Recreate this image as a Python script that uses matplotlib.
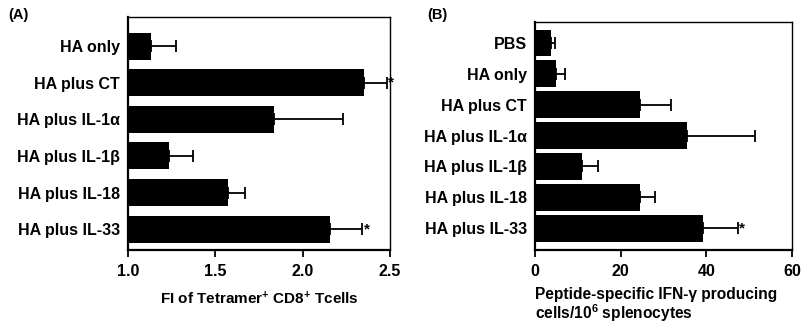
import matplotlib
matplotlib.use("Agg")
import matplotlib.pyplot as plt
import numpy as np

plt.rcParams['font.family'] = ['Liberation Sans', 'DejaVu Sans']
plt.rcParams['font.weight'] = 'bold'
plt.rcParams['mathtext.fontset'] = 'custom'
plt.rcParams['mathtext.rm'] = 'Liberation Sans:bold'
plt.rcParams['mathtext.bf'] = 'Liberation Sans:bold'
plt.rcParams['mathtext.default'] = 'bf'

# (A) Fluoreszenzindex Tetramer+ CD8+ T-Zellen
groups_a = ["HA only", "HA plus CT", "HA plus IL-1α", "HA plus IL-1β", "HA plus IL-18", "HA plus IL-33"]
fi_mean = [1.13, 2.35, 1.835, 1.235, 1.57, 2.155]
fi_sem = [0.145, 0.13, 0.395, 0.135, 0.10, 0.185]
sig_a = [False, True, False, False, False, True]

# (B) IFN-gamma produzierende Zellen / 10^6 Splenozyten
groups_b = ["PBS", "HA only", "HA plus CT", "HA plus IL-1α", "HA plus IL-1β", "HA plus IL-18", "HA plus IL-33"]
ifn_mean = [3.7, 4.8, 24.5, 35.4, 11.0, 24.5, 39.3]
ifn_sem = [1.0, 2.2, 7.2, 16.0, 3.6, 3.5, 8.1]
sig_b = [False, False, False, False, False, False, True]

fig = plt.figure(figsize=(8.03, 3.28), dpi=100)
ax1 = fig.add_axes([0.1594, 0.2378, 0.3263, 0.710])
ax2 = fig.add_axes([0.6663, 0.2378, 0.3200, 0.695])


def balken(ax, labels, vals, errs, sig, height, base, xmax, ylim):
    y = np.arange(len(labels))
    ax.barh(y, np.array(vals) - base, left=base, height=height, color='black')
    ax.errorbar(vals, y, xerr=[np.zeros(len(vals)), errs], fmt='none',
                ecolor='black', elinewidth=1.3, capsize=4, capthick=1.3)
    for i, s in enumerate(sig):
        if s:
            ax.text(vals[i] + errs[i] + xmax * 0.004, y[i], "*", fontsize=11,
                    fontweight='bold', va='center', ha='left')
    ax.set_yticks(y)
    ax.set_yticklabels(labels, fontsize=11.5, fontweight='bold')
    ax.set_ylim(*ylim)
    ax.tick_params(axis='y', length=0, pad=6)
    ax.tick_params(axis='x', direction='out', length=5, width=1.3, labelsize=11.5, pad=5)
    for sp in ax.spines.values():
        sp.set_linewidth(1.0)
    ax.spines['left'].set_linewidth(1.6)
    ax.spines['bottom'].set_linewidth(1.6)
    for lab in ax.get_xticklabels():
        lab.set_fontweight('bold')


balken(ax1, groups_a, fi_mean, fi_sem, sig_a, 0.74, 1.0, 2.5, (5.57, -0.79))
ax1.set_xlim(1.0, 2.5)
ax1.set_xticks([1.0, 1.5, 2.0, 2.5])
ax1.set_xticklabels(["1.0", "1.5", "2.0", "2.5"])
ax1.set_xlabel(r"FI of Tetramer$^{+}$ CD8$^{+}$ Tcells", fontsize=11, fontweight='bold', labelpad=8)

balken(ax2, groups_b, ifn_mean, ifn_sem, sig_b, 0.87, 0.0, 60, (6.71, -0.68))
ax2.set_xlim(0, 60)
ax2.set_xticks([0, 20, 40, 60])
ax2.set_xlabel("Peptide-specific IFN-γ producing\n" + r"cells/10$^{6}$ splenocytes",
               fontsize=11.2, fontweight='bold', ha='left', x=0.0, labelpad=6,
               linespacing=1.0)

fig.text(0.010, 0.955, "(A)", fontsize=10.5, fontweight='bold', va='center')
fig.text(0.532, 0.955, "(B)", fontsize=10.5, fontweight='bold', va='center')

plt.savefig("out.png", dpi=100)
